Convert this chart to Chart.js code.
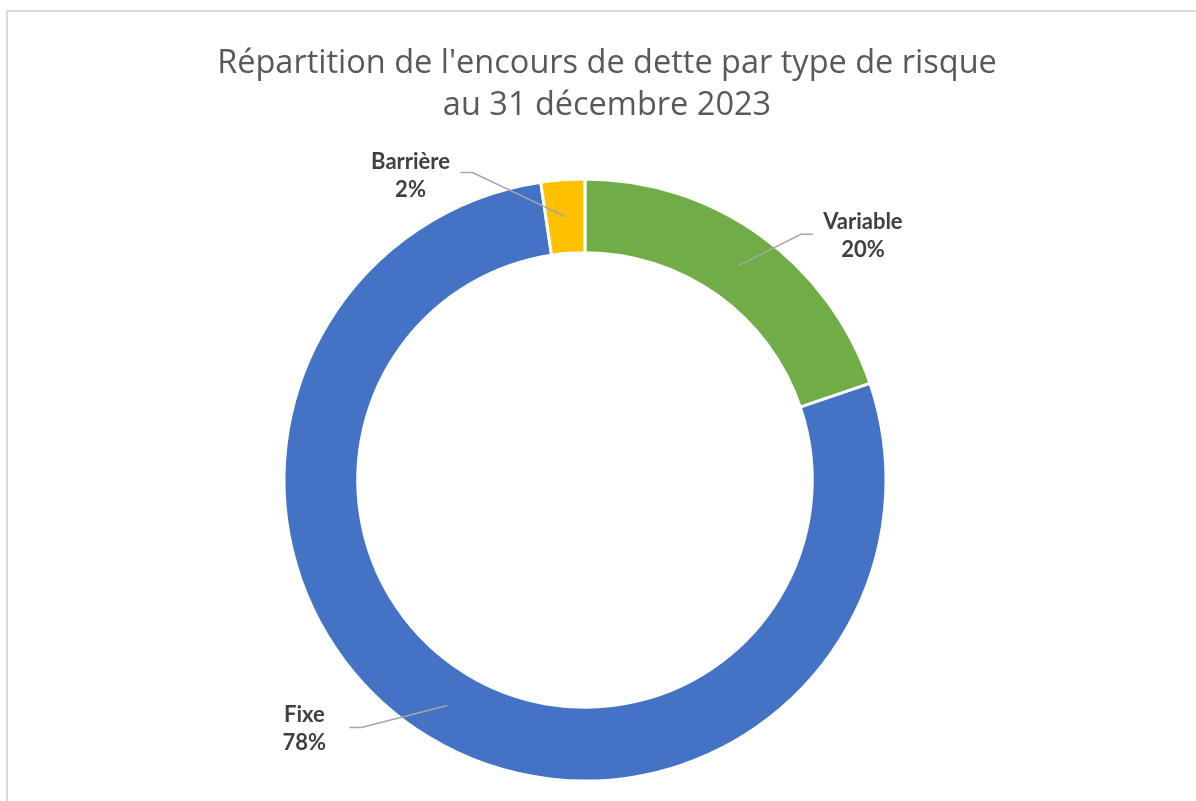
<!DOCTYPE html>
<html>
<head>
  <title>Répartition de l'encours de dette par type de risque</title>
  <script src="https://cdn.jsdelivr.net/npm/chart.js"></script>
  <style>
    html, body { margin: 0; padding: 0; background: #fff; overflow: hidden; }
    #wrap { position: relative; width: 1196px; height: 801px; }
    #frame { position: absolute; left: 6px; top: 10px; width: 1300px; height: 1000px;
             border: 2px solid #d9d9d9; box-sizing: border-box; }
    canvas { position: absolute; left: 0; top: 0; }
  </style>
</head>
<body>
  <div id="wrap">
    <div id="frame"></div>
    <canvas id="riskChart" width="1196" height="801"></canvas>
  </div>

  <script>
    const titleLines = ["Répartition de l'encours de dette par type de risque", 'au 31 décembre 2023'];
    const categories = ['Variable', 'Fixe', 'Barrière'];
    const shares = [19.8, 77.85, 2.35];
    const colors = ['#70ad47', '#4472c4', '#ffc000'];

    // label box placement relative to the slice mid point, plus leader elbow
    const labelPlace = [
      { dx: 124, dy: -29, elbow: -62, end: -50, lineDy: -2 },
      { dx: -143, dy: 23, elbow: 57, end: 45, lineDy: -1 },
      { dx: -155, dy: -41, elbow: 62, end: 50, lineDy: -3 }
    ];

    const titlePlugin = {
      id: 'excelTitle',
      afterDraw(chart) {
        const ctx = chart.ctx;
        ctx.save();
        ctx.font = '32.5px "Open Sans"';
        ctx.fillStyle = '#595959';
        ctx.textAlign = 'center';
        ctx.textBaseline = 'middle';
        ctx.fillText(titleLines[0], 607, 64);
        ctx.fillText(titleLines[1], 607, 106);
        ctx.restore();
      }
    };

    const leaderLabels = {
      id: 'leaderLabels',
      afterDatasetsDraw(chart) {
        const ctx = chart.ctx;
        const meta = chart.getDatasetMeta(0);
        const values = chart.data.datasets[0].data;
        const total = values.reduce((a, b) => a + b, 0);
        ctx.save();
        meta.data.forEach((arc, i) => {
          const p = arc.getProps(['x', 'y', 'startAngle', 'endAngle', 'innerRadius', 'outerRadius'], true);
          const mid = (p.startAngle + p.endAngle) / 2;
          const r = (p.innerRadius + p.outerRadius) / 2;
          const ax = p.x + Math.cos(mid) * r;
          const ay = p.y + Math.sin(mid) * r;
          const o = labelPlace[i];
          const lx = ax + o.dx, ly = ay + o.dy;

          ctx.strokeStyle = '#a6a6a6';
          ctx.lineWidth = 1.5;
          ctx.beginPath();
          ctx.moveTo(ax, ay);
          ctx.lineTo(lx + o.elbow, ly + o.lineDy);
          ctx.lineTo(lx + o.end, ly + o.lineDy);
          ctx.stroke();

          ctx.font = 'bold 22px Lato';
          ctx.fillStyle = '#404040';
          ctx.textAlign = 'center';
          ctx.textBaseline = 'middle';
          ctx.fillText(chart.data.labels[i], lx, ly - 14);
          ctx.fillText(Math.round(values[i] / total * 100) + '%', lx, ly + 14);
        });
        ctx.restore();
      }
    };

    const ctx = document.getElementById('riskChart').getContext('2d');
    new Chart(ctx, {
      type: 'doughnut',
      data: {
        labels: categories,
        datasets: [{
          data: shares,
          backgroundColor: colors,
          borderColor: '#ffffff',
          borderWidth: 3
        }]
      },
      options: {
        responsive: false,
        animation: false,
        radius: 301,
        cutout: '75.5%',
        layout: { padding: { top: 159, right: 26, left: 0, bottom: 0 } },
        plugins: {
          legend: { display: false },
          tooltip: { enabled: false },
          title: { display: false }
        }
      },
      plugins: [titlePlugin, leaderLabels]
    });
  </script>
</body>
</html>
